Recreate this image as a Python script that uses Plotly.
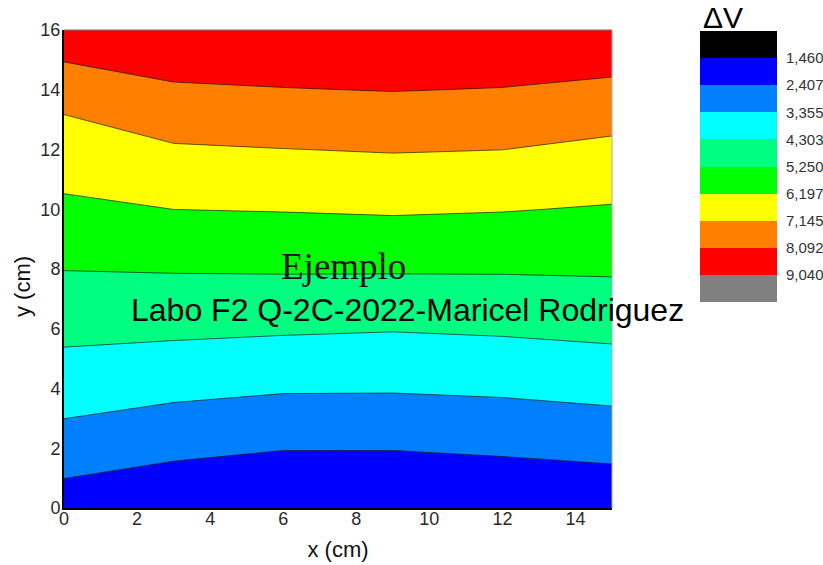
import plotly.graph_objects as go

# ---- data ----
x_cm = [0, 3, 6, 9, 12, 15]
y_cm = [0, 2, 4, 6, 8, 10, 12, 14, 16]

# measured potential difference (V), one list per y row, values along x_cm
dv_y0 = [1.90, 1.64, 1.55, 1.55, 1.58, 1.67]
dv_y2 = [2.93, 2.62, 2.44, 2.44, 2.54, 2.67]
dv_y4 = [3.79, 3.58, 3.44, 3.43, 3.50, 3.64]
dv_y6 = [4.53, 4.48, 4.41, 4.35, 4.42, 4.53]
dv_y8 = [5.27, 5.31, 5.33, 5.33, 5.33, 5.36]
dv_y10 = [6.01, 6.20, 6.24, 6.30, 6.24, 6.13]
dv_y12 = [6.73, 7.05, 7.13, 7.20, 7.15, 6.93]
dv_y14 = [7.44, 7.98, 8.06, 8.12, 8.06, 7.88]
dv_y16 = [8.84, 8.85, 8.90, 8.95, 8.90, 8.88]

levels = [1.460, 2.407, 3.355, 4.303, 5.250, 6.197, 7.145, 8.092, 9.040]
level_labels = ["1,460", "2,407", "3,355", "4,303", "5,250", "6,197", "7,145", "8,092", "9,040"]
band_colors = ["#000000", "#0000FF", "#0080FF", "#00FFFF", "#00FF80",
               "#00FF00", "#FFFF00", "#FF8000", "#FF0000", "#808080"]

z = [dv_y0, dv_y2, dv_y4, dv_y6, dv_y8, dv_y10, dv_y12, dv_y14, dv_y16]

# stepped colorscale
n = len(band_colors)
cscale = []
for i, c in enumerate(band_colors):
    cscale.append([i / n, c])
    cscale.append([(i + 1) / n, c])

step = (levels[-1] - levels[0]) / (len(levels) - 1)

fig = go.Figure()
fig.add_trace(go.Contour(
    x=x_cm, y=y_cm, z=z,
    colorscale=cscale,
    autocontour=False,
    contours=dict(start=levels[0], end=levels[-1], size=step, coloring="fill", showlines=True),
    line=dict(color="rgba(20,20,20,0.85)", width=0.8, smoothing=0),
    showscale=False,
    hoverinfo="skip",
))

# discrete colour key built as a heatmap on its own axes
band_idx = list(range(n))
fig.add_trace(go.Heatmap(
    x=[0], y=band_idx, z=[[i] for i in band_idx],
    colorscale=cscale, zmin=-0.5, zmax=n - 0.5,
    showscale=False, xaxis="x2", yaxis="y2", hoverinfo="skip",
))

W, H = 823, 565
ml, mr, mt, mb = 64, 0, 30, 57
pw, ph = W - ml - mr, H - mt - mb

def px_x(p):
    return (p - ml) / pw

def px_y(p):
    return 1 - (p - mt) / ph

tick_font = dict(family="Liberation Sans, Arial", size=18, color="#2a2a2a")

fig.update_layout(
    width=W, height=H,
    margin=dict(l=ml, r=mr, t=mt, b=mb),
    paper_bgcolor="white", plot_bgcolor="white",
    showlegend=False,
    xaxis=dict(domain=[0, px_x(612)], range=[0, 15], tickvals=[0, 2, 4, 6, 8, 10, 12, 14],
               showgrid=False, zeroline=False, showline=True, linecolor="black", linewidth=2,
               ticks="", tickfont=tick_font, ticklabelstandoff=-7,
               title=dict(text="x (cm)", font=dict(family="Liberation Sans, Arial", size=22, color="#111"), standoff=14)),
    yaxis=dict(domain=[0, 1], range=[0, 16], tickvals=[0, 2, 4, 6, 8, 10, 12, 14, 16],
               showgrid=False, zeroline=False, showline=True, linecolor="black", linewidth=2,
               ticks="", tickfont=tick_font, ticklabelstandoff=-2, title=None),
    xaxis2=dict(domain=[px_x(700), px_x(777)], anchor="y2", range=[-0.5, 0.5],
                showticklabels=False, showgrid=False, zeroline=False, showline=False, ticks=""),
    yaxis2=dict(domain=[px_y(302), px_y(31)], anchor="x2", side="right",
                range=[n - 0.5, -0.5],
                tickvals=[i + 0.5 for i in range(len(level_labels))], ticktext=level_labels,
                ticks="outside", ticklen=5, tickcolor="rgba(0,0,0,0)",
                tickfont=dict(family="Liberation Sans, Arial", size=15, color="#333"),
                showgrid=False, zeroline=False, showline=False),
)

# plot frame: thin grey top / right
fig.add_shape(type="line", xref="x domain", yref="y domain", x0=0, x1=1, y0=1, y1=1,
              line=dict(color="#777", width=1))
fig.add_shape(type="line", xref="x domain", yref="y domain", x0=1, x1=1, y0=0, y1=1,
              line=dict(color="#aaa", width=1))

fig.add_annotation(text="y (cm)", textangle=-90, xref="paper", yref="paper",
                   x=px_x(22), y=px_y(287), xanchor="center", yanchor="middle", showarrow=False,
                   font=dict(family="Liberation Sans, Arial", size=22, color="#111"))
fig.add_annotation(text="ΔV", xref="paper", yref="paper", x=px_x(723), y=px_y(17),
                   xanchor="center", yanchor="middle",
                   showarrow=False, font=dict(family="Liberation Sans, Arial", size=30, color="black"))
fig.add_annotation(text="Ejemplo", xref="x", yref="y", x=7.66, y=8.1, showarrow=False,
                   xanchor="center", yanchor="middle",
                   font=dict(family="Liberation Serif, Times New Roman", size=37, color="#111"))
fig.add_annotation(text="Labo F2 Q-2C-2022-Maricel Rodriguez", xref="x", yref="y", x=9.40, y=6.63,
                   xanchor="center", yanchor="middle",
                   showarrow=False, font=dict(family="Liberation Sans, Arial", size=32, color="black"))

fig.write_html("out.html")
